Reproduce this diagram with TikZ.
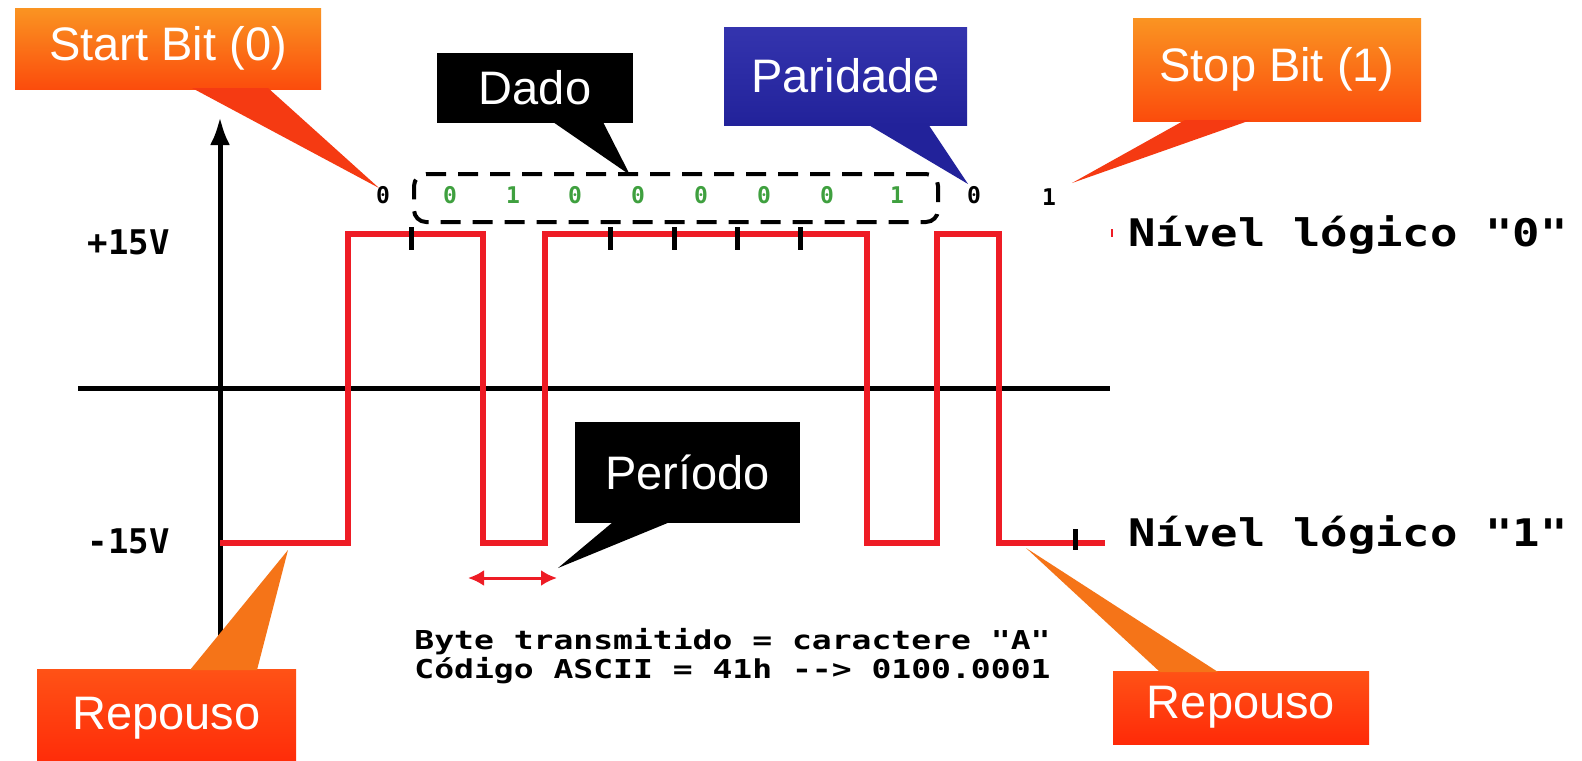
\documentclass[tikz,border=0pt]{standalone}
\usepackage{fontspec}
\usepackage{graphicx}
\setmainfont{Liberation Sans}
\newfontfamily\mono{DejaVu Sans Mono}[Ligatures=TeXOff]
\usetikzlibrary{arrows.meta,calc}
\definecolor{orTop}{HTML}{FA9422}
\definecolor{orBot}{HTML}{FB4C0C}
\definecolor{ptrOr}{HTML}{F53A12}
\definecolor{blueTop}{HTML}{3434AE}
\definecolor{blueBot}{HTML}{22229A}
\definecolor{redTop}{HTML}{FF5216}
\definecolor{redBot}{HTML}{FF2A08}
\definecolor{ptrRep}{HTML}{F57418}
\definecolor{waveRed}{HTML}{EE1C25}
\definecolor{bitGreen}{HTML}{3FA03F}
\begin{document}
\begin{tikzpicture}[x=0.5pt,y=-0.5pt,
  callout/.style={inner sep=0pt, outer sep=0pt, text=white, font=\fontsize{23.5}{28}\selectfont},
  axisline/.style={line width=2.5pt, black},
  wave/.style={line width=2.8pt, waveRed, line join=miter},
  tickmark/.style={line width=2.5pt, black},
  bitlbl/.style={font=\mono\bfseries\fontsize{11.5}{13}\selectfont, inner sep=0pt},
  databit/.style={bitlbl, text=bitGreen},
  volt/.style={font=\mono\bfseries\fontsize{17}{20}\selectfont, inner sep=0pt, anchor=east},
  nivel/.style={font=\mono\bfseries\fontsize{19}{22}\selectfont, inner sep=0pt, anchor=west},
  info/.style={font=\mono\bfseries\fontsize{13}{15}\selectfont, inner sep=0pt, anchor=west}
]
\useasboundingbox (0,0) rectangle (1582,760);
\clip (0,0) rectangle (1582,760);
\fill[white] (0,0) rectangle (1582,760);

% axes
\draw[axisline] (78,388) -- (1110,388);
\draw[axisline, -{Latex[length=14pt,width=10pt]}] (220,672) -- (220,117);

% waveform
\draw[wave] (220,543) -- (348,543) -- (348,234) -- (483,234) -- (483,543) -- (545,543) -- (545,234)
  -- (867,234) -- (867,543) -- (937,543) -- (937,234) -- (999,234) -- (999,543) -- (1105,543);

% ticks
\foreach \tx in {411,610,674,737,800} \draw[tickmark] (\tx,227) -- (\tx,250);
\draw[tickmark] (1075,529) -- (1075,550);
\draw[waveRed, line width=0.8pt] (1112,229) -- (1112,237);

% voltage labels
\node[volt] (vp) at (170,242) {+15V};
\node[volt] (vm) at (170,541) {-15V};

% level labels
\node[nivel] (n0) at (1128,235) {\scalebox{1.2}[1]{Nível lógico "0"}};
\node[nivel] (n1) at (1128,535) {\scalebox{1.2}[1]{Nível lógico "1"}};

% bits
\node[bitlbl] (bs) at (383,195) {0};
\node[databit] (d0) at (450,195) {0};
\node[databit] (d1) at (513,195) {1};
\node[databit] (d2) at (575,195) {0};
\node[databit] (d3) at (638,195) {0};
\node[databit] (d4) at (701,195) {0};
\node[databit] (d5) at (764,195) {0};
\node[databit] (d6) at (827,195) {0};
\node[databit] (d7) at (897,195) {1};
\node[bitlbl] (bp) at (974,195) {0};
\node[bitlbl] (bst) at (1049,197) {1};

% data frame
\node[draw, line width=2pt, dash pattern=on 10pt off 6pt, rounded corners=6pt,
      minimum width=262pt, minimum height=24pt, inner sep=0pt] (databox) at (676,198) {};

% info text
\node[info] (i1) at (414,642) {\scalebox{1.27}[1]{Byte transmitido = caractere "A"}};
\node[info] (i2) at (414,671) {\scalebox{1.27}[1]{Código ASCII = 41h --> 0100.0001}};

% period arrow
\coordinate (pa) at (468,578);
\coordinate (pb) at (557,578);
\draw[waveRed, line width=1.5pt, {Latex[length=8pt,width=8pt]}-{Latex[length=8pt,width=8pt]}] (pa) -- (pb);

% callout tips
\coordinate (tStart) at (379,188);
\coordinate (tDado) at (630,175);
\coordinate (tPar) at (968,184);
\coordinate (tStop) at (1072,183);
\coordinate (tPer) at (558,568);
\coordinate (tRepL) at (288,550);
\coordinate (tRepR) at (1026,548);

% callout boxes
\node[callout, top color=orTop, bottom color=orBot, minimum width=153pt, minimum height=40.5pt] (start) at (168,48.5) {Start Bit (0)};
\node[callout, fill=black, minimum width=98pt, minimum height=35pt] (dado) at (535,88) {Dado};
\node[callout, top color=blueTop, bottom color=blueBot, minimum width=121.5pt, minimum height=49pt] (par) at (845.5,76) {Paridade};
\node[callout, top color=orTop, bottom color=orBot, minimum width=144pt, minimum height=51.5pt] (stop) at (1277,69.5) {Stop Bit (1)};
\node[callout, fill=black, minimum width=112.5pt, minimum height=50.5pt] (per) at (687.5,472.5) {Período};
\node[callout, top color=redTop, bottom color=redBot, minimum width=129.5pt, minimum height=49pt] (repL) at (166.5,718) {Repouso};
\node[callout, top color=redTop, bottom color=redBot, minimum width=128pt, minimum height=36.5pt] (repR) at (1241,707.5) {Repouso};

% callout pointers
\fill[ptrOr] ($(start.south west)+(177,-1)$) -- (tStart) -- ($(start.south west)+(253,-1)$) -- cycle;
\fill[black] ($(dado.south west)+(116,-1)$) -- (tDado) -- ($(dado.south west)+(166,-1)$) -- cycle;
\fill[blueBot] ($(par.south west)+(143,-1)$) -- (tPar) -- ($(par.south west)+(204,-1)$) -- cycle;
\fill[ptrOr] ($(stop.south west)+(52,-1)$) -- (tStop) -- ($(stop.south west)+(118,-1)$) -- cycle;
\fill[black] ($(per.south west)+(38,-1)$) -- (tPer) -- ($(per.south west)+(95,-1)$) -- cycle;
\fill[ptrRep] ($(repL.north west)+(153,1)$) -- (tRepL) -- ($(repL.north west)+(220,1)$) -- cycle;
\fill[ptrRep] ($(repR.north west)+(47,1)$) -- (tRepR) -- ($(repR.north west)+(105,1)$) -- cycle;
\end{tikzpicture}
\end{document}
